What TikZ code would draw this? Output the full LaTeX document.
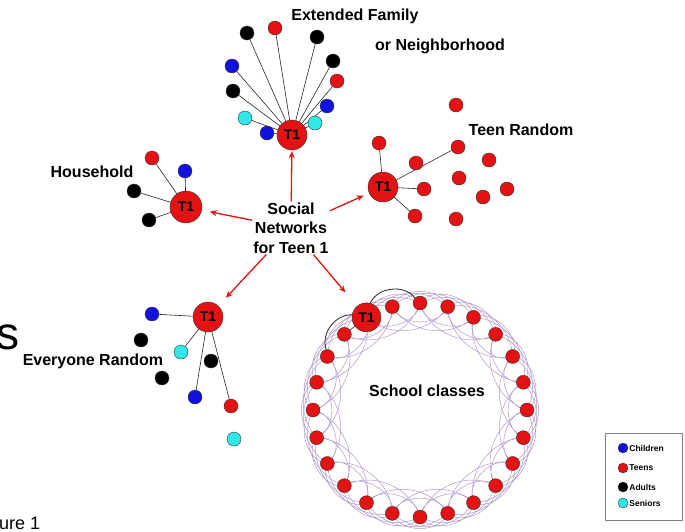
\documentclass[tikz,border=0pt]{standalone}
\usepackage{fontspec}
\setmainfont{Liberation Sans}
\usetikzlibrary{
  arrows.meta
}

\definecolor{teenred}{RGB}{228,18,18}
\definecolor{kidblue}{RGB}{18,18,222}
\definecolor{seniorcyan}{RGB}{48,232,232}
\definecolor{ringlilac}{RGB}{178,150,205}

\tikzset{
  pers/.style={circle, draw=black!80, thin, minimum size=14pt, inner sep=0pt},
  kid/.style={pers, fill=kidblue},
  teen/.style={pers, fill=teenred},
  adult/.style={pers, fill=black},
  senior/.style={pers, fill=seniorcyan},
  tone/.style={teen, minimum size=30pt, font=\fontsize{14}{14}\bfseries},
  tie/.style={black!85, semithick},
  arr/.style={teenred, line width=1.3pt, -{Stealth[length=7pt,width=6pt]}},
  lbl/.style={font=\fontsize{16}{19.5}\bfseries, inner sep=1pt, align=center}
}

\begin{document}
\begin{tikzpicture}[x=1pt, y=-1pt]
  \useasboundingbox (0,0) rectangle (685,531);

  \node[lbl] (soc) at (291,228) {Social\\Networks\\for Teen 1};

  \node[tone] (ext) at (292,135) {T1};
  \foreach \n/\s/\x/\y in {e1/teen/275/28, e2/adult/247/33, e3/adult/317/37,
      e4/kid/232/66, e5/adult/333/61, e6/teen/337/81, e7/adult/233/91,
      e8/kid/327/106, e9/senior/245/118, e10/senior/315/123, e11/kid/267/133} {
      \node[\s] (\n) at (\x,\y) {};
      \draw[tie] (ext) -- (\n);
    }

  \node[tone, minimum size=32pt] (hh) at (186,207) {T1};
  \foreach \n/\s/\x/\y in {h1/teen/152/158, h2/kid/185/171, h3/adult/134/191,
      h4/adult/149/220} {
      \node[\s] (\n) at (\x,\y) {};
      \draw[tie] (hh) -- (\n);
    }

  \node[tone] (tr) at (383,187) {T1};
  \foreach \n/\x/\y in {t1/379/143, t2/458/147, t3/424/189, t4/415/216} {
      \node[teen] (\n) at (\x,\y) {};
      \draw[tie] (tr) -- (\n);
    }
  \foreach \n/\x/\y in {t5/456/105, t6/416/163, t7/489/160, t8/459/178,
      t9/507/189, t10/483/197, t11/456/219} {
      \node[teen] (\n) at (\x,\y) {};
    }

  \node[tone] (er) at (208,317) {T1};
  \foreach \n/\s/\x/\y in {r1/kid/152/314, r2/senior/181/352, r3/kid/195/397,
      r4/teen/231/406} {
      \node[\s] (\n) at (\x,\y) {};
      \draw[tie] (er) -- (\n);
    }
  \foreach \n/\s/\x/\y in {r5/adult/141/340, r6/adult/211/361,
      r7/adult/162/378, r8/senior/234/439} {
      \node[\s] (\n) at (\x,\y) {};
    }

  \begin{scope}[shift={(420,410)}]
    \foreach \k in {0,...,23} {
        \coordinate (c\k) at ({-90-15*\k}:107);
      }
    \foreach \k in {0,...,23} {
        \pgfmathtruncatemacro{\ka}{mod(\k+2,24)}
        \pgfmathtruncatemacro{\kb}{mod(\k+3,24)}
        \draw[ringlilac, line width=0.5pt]
        (c\k) to[bend left=70] (c\ka) (c\k) to[bend right=70] (c\ka)
        (c\k) to[bend left=50] (c\kb) (c\k) to[bend right=50] (c\kb);
      }
    \foreach \k in {0,1,3,4,...,23} {
        \node[teen] (s\k) at (c\k) {};
      }
    \node[tone, minimum size=29pt] (sch) at (c2) {T1};
    \draw[tie, thick] (sch) to[bend left=60] (s0);
    \draw[tie, thick] (sch) to[bend right=55] (s4);
    \draw[tie] (sch) -- (s3);
  \end{scope}

  \draw[arr, shorten >=1pt] (soc) -- (ext);
  \draw[arr, shorten >=8pt] (soc) -- (hh);
  \draw[arr, shorten >=6pt] (soc) -- (tr);
  \draw[arr, shorten >=11pt] (soc) -- (er);
  \draw[arr, shorten >=18pt] (soc) -- (sch);

  \begin{scope}[lbl]
    \node (lext) at (355,16) {Extended Family};
    \node (lnb) at (440,46) {or Neighborhood};
    \node (lhh) at (92,172) {Household};
    \node (ltr) at (521,130) {Teen Random};
    \node (ler) at (93,361) {Everyone Random};
    \node (lsch) at (427,391) {School classes};
  \end{scope}

  \node[anchor=base east, inner sep=0pt, font=\fontsize{46}{46}\selectfont]
  (bigs) at (20,349) {s};
  \node[anchor=base west, inner sep=0pt, font=\fontsize{18}{18}\selectfont]
  (fig) at (-1,529) {ure 1};

  \draw[gray, thin] (605,433) rectangle (682,520);
  \foreach \n/\s/\y/\t in {k/kid/448/Children, t/teen/468/Teens,
      a/adult/487/Adults, s/senior/503/Seniors} {
      \node[\s, minimum size=10pt] (leg\n) at (623,\y) {};
      \node[right, inner sep=1pt, font=\fontsize{8.5}{9}\bfseries] (legt\n)
      at (leg\n.east) {\t};
    }
\end{tikzpicture}
\end{document}
